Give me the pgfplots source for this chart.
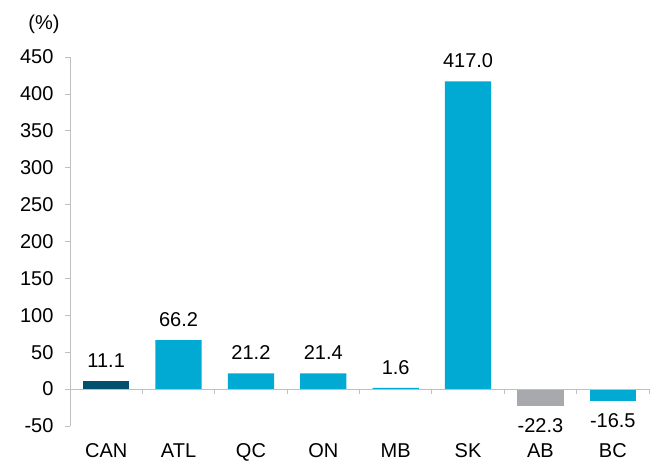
\documentclass[border=0pt]{standalone}
\usepackage{pgfplots}
\pgfplotsset{compat=1.18}
\usepackage{fontspec}
\setmainfont{Liberation Sans}
\usetikzlibrary{calc}
\definecolor{dk}{HTML}{00506E}
\definecolor{cy}{HTML}{00AAD2}
\definecolor{gr}{HTML}{A7A9AC}
\definecolor{axc}{HTML}{BFBFBF}
\begin{document}
\begin{tikzpicture}[font=\fontsize{20bp}{24bp}\selectfont]
\begin{axis}[
  scale only axis, width=579bp, height=369bp,
  xmin=-0.5, xmax=7.5, ymin=-50, ymax=450,
  axis x line*=bottom, axis y line*=left,
  x axis line style={draw=none},
  y axis line style={axc, line width=0.8pt, -},
  ytick style={axc, line width=0.8pt},
  xtick style={draw=none},
  xtick={0,...,7},
  xticklabels={CAN,ATL,QC,ON,MB,SK,AB,BC},
  ytick={-50,0,50,100,150,200,250,300,350,400,450},
  tick align=outside, major tick length=5bp,
  tick label style={font=\fontsize{20bp}{24bp}\selectfont},
  yticklabel style={xshift=-8bp},
  xticklabel style={yshift=-9bp},
  /pgf/number format/assume math mode=true,
  ybar, bar width=0.64, bar shift=0pt,
  point meta=y,
  nodes near coords={\pgfmathprintnumber[fixed,fixed zerofill,precision=1]{\pgfplotspointmeta}},
  nodes near coords style={font=\fontsize{20bp}{24bp}\selectfont, text=black},
  clip=false,
]
\addplot[fill=dk, draw=none, nodes near coords style={yshift=10bp}] coordinates {(0,11.1)};
\addplot[fill=cy, draw=none, nodes near coords style={yshift=10bp}] coordinates {(1,66.2) (2,21.2) (3,21.4) (4,1.6) (5,417.0)};
\addplot[fill=gr, draw=none, nodes near coords style={yshift=-9bp}] coordinates {(6,-22.3)};
\addplot[fill=cy, draw=none, nodes near coords style={yshift=-9bp}] coordinates {(7,-16.5)};
\draw[axc, line width=0.8pt] (axis cs:-0.5,0) -- (axis cs:7.5,0);
\pgfplotsinvokeforeach{0.5,1.5,2.5,3.5,4.5,5.5,6.5,7.5}{
  \draw[axc, line width=0.8pt] (axis cs:#1,0) -- ([yshift=-5bp]axis cs:#1,0);
}
\end{axis}
\node at ($(current axis.north west)+(-26bp,33bp)$) {(\%)};
\path ($(current axis.south west)+(-70bp,-33bp)$) rectangle ($(current axis.north east)+(10bp,57bp)$);
\end{tikzpicture}
\end{document}
